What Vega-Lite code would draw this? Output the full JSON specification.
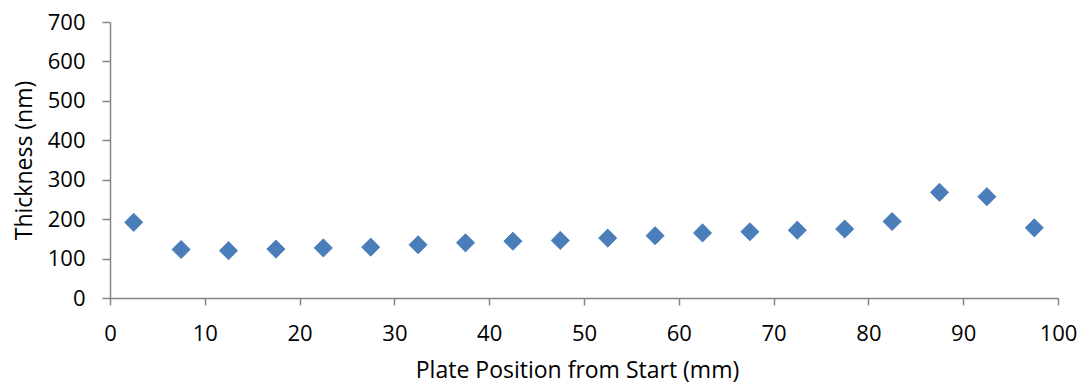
{
  "$schema": "https://vega.github.io/schema/vega-lite/v6.json",
  "autosize": "none",
  "width": 948,
  "height": 276,
  "padding": {"left": 110, "top": 22, "right": 23, "bottom": 90},
  "background": "white",
  "config": {
    "view": {"stroke": null},
    "font": "Open Sans"
  },
  "data": {
    "values": [
      {"pos": 2.5, "thickness": 192},
      {"pos": 7.5, "thickness": 123},
      {"pos": 12.5, "thickness": 120},
      {"pos": 17.5, "thickness": 124},
      {"pos": 22.5, "thickness": 127},
      {"pos": 27.5, "thickness": 129},
      {"pos": 32.5, "thickness": 135},
      {"pos": 37.5, "thickness": 140},
      {"pos": 42.5, "thickness": 144},
      {"pos": 47.5, "thickness": 146},
      {"pos": 52.5, "thickness": 152},
      {"pos": 57.5, "thickness": 158},
      {"pos": 62.5, "thickness": 165},
      {"pos": 67.5, "thickness": 168},
      {"pos": 72.5, "thickness": 172},
      {"pos": 77.5, "thickness": 175},
      {"pos": 82.5, "thickness": 194},
      {"pos": 87.5, "thickness": 268},
      {"pos": 92.5, "thickness": 257},
      {"pos": 97.5, "thickness": 178}
    ]
  },
  "mark": {"type": "point", "shape": "diamond", "filled": true, "size": 330, "color": "#4A7EBB", "opacity": 1, "stroke": "#4174B0", "strokeWidth": 0.8},
  "encoding": {
    "x": {
      "field": "pos", "type": "quantitative",
      "scale": {"domain": [0, 100], "nice": false, "zero": true},
      "axis": {
        "values": [0, 10, 20, 30, 40, 50, 60, 70, 80, 90, 100],
        "title": "Plate Position from Start (mm)",
        "grid": false,
        "labelFlush": false,
        "labelOverlap": false,
        "domainColor": "#868686", "domainWidth": 1.5,
        "tickColor": "#868686", "tickWidth": 1.5, "tickSize": 7,
        "labelFont": "Open Sans", "labelFontSize": 22, "labelColor": "#000000", "labelPadding": 18,
        "titleFont": "Open Sans", "titleFontSize": 23, "titleFontWeight": "normal", "titleColor": "#000000", "titlePadding": 15,
        "titleX": 467
      }
    },
    "y": {
      "field": "thickness", "type": "quantitative",
      "scale": {"domain": [0, 700], "nice": false},
      "axis": {
        "values": [0, 100, 200, 300, 400, 500, 600, 700],
        "title": "Thickness (nm)",
        "grid": false,
        "labelFlush": false,
        "labelOverlap": false,
        "domainColor": "#868686", "domainWidth": 1.5,
        "tickColor": "#868686", "tickWidth": 1.5, "tickSize": 8,
        "labelFont": "Open Sans", "labelFontSize": 22, "labelColor": "#000000", "labelPadding": 17,
        "titleFont": "Open Sans", "titleFontSize": 23, "titleFontWeight": "normal", "titleColor": "#000000", "titlePadding": 11
      }
    }
  }
}
